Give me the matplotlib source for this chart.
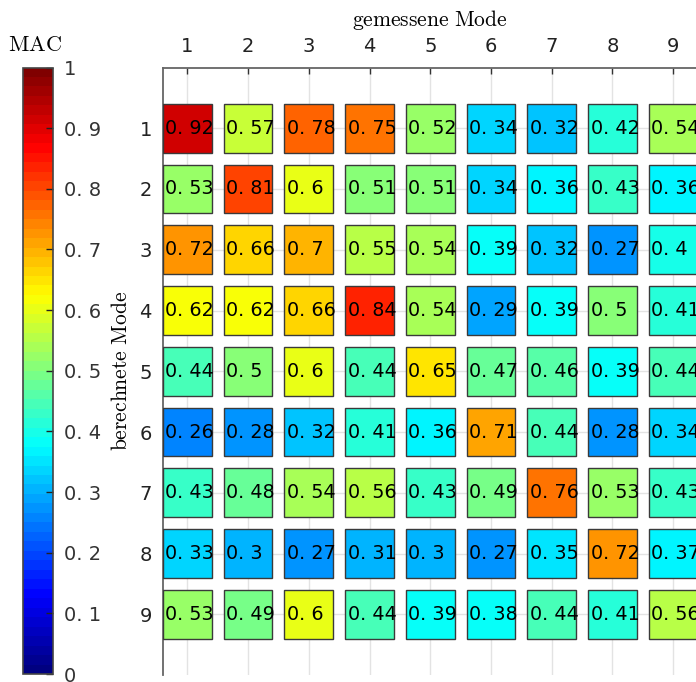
import numpy as np
import matplotlib
matplotlib.use("Agg")
import matplotlib.pyplot as plt
from matplotlib.patches import Rectangle
from matplotlib.colors import Normalize, LinearSegmentedColormap
from matplotlib.cm import ScalarMappable

plt.rcParams['mathtext.fontset'] = 'cm'
plt.rcParams['font.family'] = ['DejaVu Sans']

measured_modes = [1, 2, 3, 4, 5, 6, 7, 8, 9]
computed_modes = [1, 2, 3, 4, 5, 6, 7, 8, 9]
mac_row1 = [0.92, 0.57, 0.78, 0.75, 0.52, 0.34, 0.32, 0.42, 0.54]
mac_row2 = [0.53, 0.81, 0.60, 0.51, 0.51, 0.34, 0.36, 0.43, 0.36]
mac_row3 = [0.72, 0.66, 0.70, 0.55, 0.54, 0.39, 0.32, 0.27, 0.40]
mac_row4 = [0.62, 0.62, 0.66, 0.84, 0.54, 0.29, 0.39, 0.50, 0.41]
mac_row5 = [0.44, 0.50, 0.60, 0.44, 0.65, 0.47, 0.46, 0.39, 0.44]
mac_row6 = [0.26, 0.28, 0.32, 0.41, 0.36, 0.71, 0.44, 0.28, 0.34]
mac_row7 = [0.43, 0.48, 0.54, 0.56, 0.43, 0.49, 0.76, 0.53, 0.43]
mac_row8 = [0.33, 0.30, 0.27, 0.31, 0.30, 0.27, 0.35, 0.72, 0.37]
mac_row9 = [0.53, 0.49, 0.60, 0.44, 0.39, 0.38, 0.44, 0.41, 0.56]
mac_rows = [mac_row1, mac_row2, mac_row3, mac_row4, mac_row5,
            mac_row6, mac_row7, mac_row8, mac_row9]
cbar_ticks = [0, 0.1, 0.2, 0.3, 0.4, 0.5, 0.6, 0.7, 0.8, 0.9, 1]


def fmt(v):
    s = f"{v:.2f}".rstrip('0').rstrip('.')
    return s.replace('.', '. ')


# MATLAB-style jet colormap, 64 levels
jet_segments = {
    'red':   [(0, 0, 0), (0.375, 0, 0), (0.625, 1, 1), (0.875, 1, 1), (1, 0.5, 0.5)],
    'green': [(0, 0, 0), (0.125, 0, 0), (0.375, 1, 1), (0.625, 1, 1), (0.875, 0, 0), (1, 0, 0)],
    'blue':  [(0, 0.5, 0.5), (0.125, 1, 1), (0.375, 1, 1), (0.625, 0, 0), (1, 0, 0)],
}
cmap = LinearSegmentedColormap('matlab_jet', jet_segments, N=64)
norm = Normalize(0, 1)

W, H = 696, 682
fig = plt.figure(figsize=(W / 100, H / 100), dpi=100)

# main axes
ax_left, ax_right, ax_top, ax_bottom = 163, 697.5, 67.5, 675
ax = fig.add_axes([ax_left / W, 1 - ax_bottom / H,
                   (ax_right - ax_left) / W, (ax_bottom - ax_top) / H])
ax.set_xlim(0.6, 9.4)
ax.set_ylim(10, 0)

sz = 0.8
for i, (row_mode, row) in enumerate(zip(computed_modes, mac_rows)):
    for j, (col_mode, v) in enumerate(zip(measured_modes, row)):
        ax.add_patch(Rectangle((col_mode - sz / 2, row_mode - sz / 2), sz, sz,
                               facecolor=cmap(norm(v)), edgecolor='#3a3a3a',
                               lw=1.0, zorder=3))
        ax.text(col_mode - sz / 2 + 0.04, row_mode, fmt(v), ha='left',
                va='center', fontsize=13.8, color='black', zorder=4)

ax.set_xticks(measured_modes)
ax.set_yticks(computed_modes)
ax.set_xticklabels([str(m) for m in measured_modes], fontsize=14, color='#222222')
ax.set_yticklabels([str(m) for m in computed_modes], fontsize=14, color='#222222')
ax.xaxis.tick_top()
ax.xaxis.set_label_position('top')
ax.tick_params(axis='x', direction='in', length=4, width=1, color='#333333', pad=8)
ax.tick_params(axis='y', direction='in', length=0, pad=8)
ax.grid(True, color='#e3e3e3', lw=1)
ax.set_axisbelow(True)
for s in ['right', 'bottom']:
    ax.spines[s].set_visible(False)
for s in ['top', 'left']:
    ax.spines[s].set_color('#666666')
    ax.spines[s].set_linewidth(1.3)

ax.set_xlabel(r'$\mathrm{gemessene\ Mode}$', fontsize=15.5, labelpad=8)
ax.set_ylabel(r'$\mathrm{berechnete\ Mode}$', fontsize=15.5, labelpad=6)

# colorbar
cb_left, cb_right = 23, 53
cax = fig.add_axes([cb_left / W, 1 - 674 / H, (cb_right - cb_left) / W, (674 - 67.5) / H])
sm = ScalarMappable(norm=norm, cmap=cmap)
cb = fig.colorbar(sm, cax=cax, orientation='vertical')
cb.set_ticks(cbar_ticks)
cb.set_ticklabels([fmt(t) for t in cbar_ticks])
cax.tick_params(direction='in', length=5, width=1, color='#222222',
                labelsize=14, labelcolor='#333333', pad=8)
cb.outline.set_edgecolor('#444444')
cb.outline.set_linewidth(1.2)

fig.text(35 / W, 1 - 45 / H, r'$\mathrm{MAC}$', fontsize=16, ha='center', va='center')

fig.savefig('out.png', dpi=100)
